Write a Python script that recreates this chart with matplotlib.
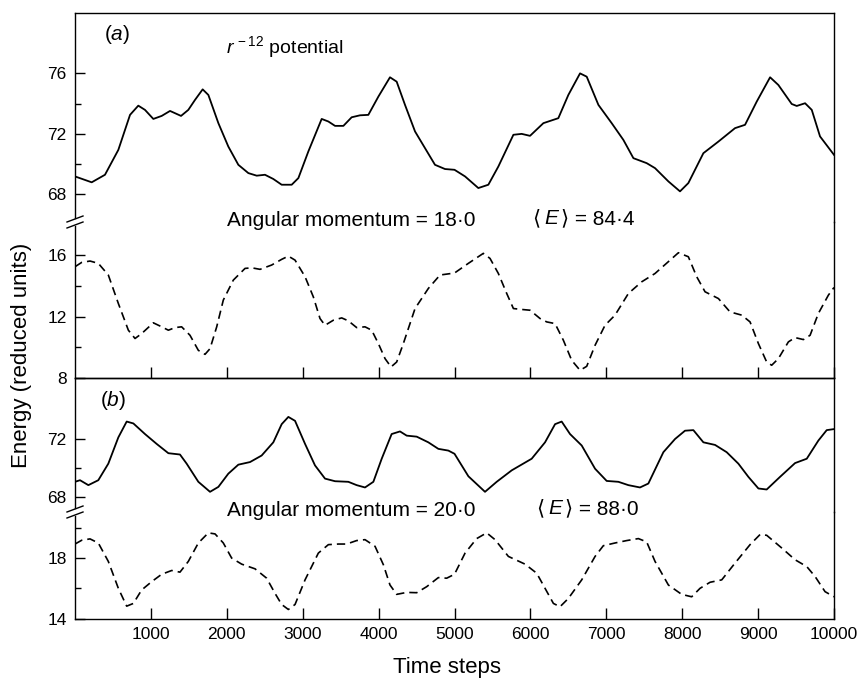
#!/usr/bin/env python3
# -*- coding: utf-8 -*-
"""
Energy against time step for two angular momenta, r^-12 potential.
Kinetic (dashed) and potential (solid) energy on broken y axes.
"""

import matplotlib
matplotlib.use('Agg')
import matplotlib.pyplot as plt
from matplotlib.lines import Line2D

###############################################################################
# =========================
# data (time step, energy in reduced units)
# =========================

# (a) angular momentum 18.0, potential energy
aPotSteps = [0, 220, 395, 571, 725, 834, 922, 1032, 1142, 1252, 1318, 1397, 1493, 1581, 1682, 1757,
             1889, 2020, 2152, 2284, 2394, 2503, 2613, 2723, 2855, 2943, 3074, 3250, 3338, 3426,
             3536, 3645, 3755, 3865, 3997, 4150, 4238, 4348, 4480, 4612, 4743, 4875, 5000, 5139,
             5314, 5446, 5578, 5776, 5885, 5995, 6171, 6368, 6500, 6654, 6742, 6896, 7071, 7225,
             7357, 7532, 7642, 7818, 7971, 8081, 8279, 8477, 8696, 8828, 8982, 9158, 9267, 9443,
             9509, 9619, 9707, 9816, 10000]
aPotEnergy = [69.17, 68.78, 69.28, 70.93, 73.25, 73.86, 73.58, 72.98, 73.18, 73.51, 73.36, 73.18,
              73.58, 74.24, 74.94, 74.57, 72.70, 71.15, 69.94, 69.39, 69.22, 69.28, 69.00, 68.62,
              68.62, 69.06, 70.82, 72.98, 72.81, 72.52, 72.52, 73.09, 73.22, 73.25, 74.46, 75.74,
              75.45, 73.91, 72.15, 71.04, 69.94, 69.66, 69.61, 69.17, 68.40, 68.62, 69.83, 71.93,
              71.99, 71.86, 72.70, 73.03, 74.57, 76.00, 75.78, 73.91, 72.70, 71.59, 70.38, 70.05,
              69.72, 68.84, 68.18, 68.73, 70.71, 71.48, 72.37, 72.59, 74.13, 75.74, 75.23, 73.97,
              73.84, 74.02, 73.58, 71.82, 70.60]

# (a) angular momentum 18.0, kinetic energy
aKinSteps = [0, 88, 198, 307, 439, 571, 703, 791, 878, 1032, 1142, 1230, 1318, 1405, 1515, 1625,
             1713, 1779, 1867, 1954, 2086, 2240, 2328, 2438, 2591, 2723, 2811, 2899, 3031, 3140,
             3228, 3294, 3404, 3514, 3601, 3711, 3821, 3909, 3997, 4085, 4164, 4238, 4326, 4480,
             4656, 4809, 5000, 5183, 5380, 5468, 5578, 5688, 5776, 5885, 5995, 6127, 6215, 6325,
             6434, 6544, 6654, 6742, 6852, 6983, 7115, 7291, 7467, 7642, 7818, 7950, 8081, 8191,
             8301, 8477, 8630, 8784, 8894, 9004, 9113, 9179, 9267, 9399, 9487, 9597, 9685, 9794,
             9926, 10000]
aKinEnergy = [15.24, 15.52, 15.61, 15.46, 14.70, 12.85, 11.11, 10.57, 10.89, 11.59, 11.33, 11.11,
              11.28, 11.33, 10.78, 9.80, 9.54, 9.91, 11.33, 13.07, 14.37, 15.13, 15.17, 15.07,
              15.35, 15.72, 15.93, 15.67, 14.59, 13.28, 11.87, 11.43, 11.76, 11.91, 11.72, 11.28,
              11.33, 11.11, 10.24, 9.26, 8.72, 9.04, 10.24, 12.52, 13.83, 14.70, 14.83, 15.46,
              16.11, 15.78, 14.80, 13.50, 12.52, 12.46, 12.41, 11.87, 11.65, 11.54, 10.46, 9.15,
              8.50, 8.76, 10.13, 11.43, 12.09, 13.50, 14.26, 14.80, 15.57, 16.15, 15.89, 14.59,
              13.61, 13.17, 12.30, 12.09, 11.65, 10.24, 9.04, 8.83, 9.26, 10.35, 10.63, 10.50,
              10.78, 12.20, 13.39, 13.89]

# (b) angular momentum 20.0, potential energy
bPotSteps = [0, 66, 176, 307, 439, 571, 681, 769, 922, 1076, 1230, 1383, 1471, 1625, 1779, 1889,
             2020, 2152, 2306, 2459, 2613, 2723, 2811, 2899, 3031, 3162, 3294, 3426, 3601, 3711,
             3821, 3931, 4041, 4172, 4282, 4370, 4502, 4655, 4787, 4919, 5000, 5183, 5402, 5556,
             5754, 6017, 6193, 6325, 6412, 6522, 6676, 6852, 7005, 7159, 7291, 7444, 7554, 7752,
             7906, 8037, 8147, 8279, 8433, 8586, 8740, 8872, 9004, 9113, 9289, 9487, 9641, 9794,
             9904, 10000]
bPotEnergy = [69.05, 69.16, 68.82, 69.16, 70.30, 72.11, 73.20, 73.07, 72.34, 71.66, 71.02, 70.93,
              70.30, 69.05, 68.36, 68.70, 69.61, 70.23, 70.41, 70.86, 71.77, 73.02, 73.52, 73.25,
              71.66, 70.18, 69.27, 69.09, 69.05, 68.82, 68.66, 69.05, 70.64, 72.34, 72.52, 72.23,
              72.16, 71.77, 71.32, 71.20, 70.98, 69.43, 68.36, 69.05, 69.84, 70.64, 71.77, 73.02,
              73.20, 72.34, 71.55, 69.95, 69.11, 69.05, 68.82, 68.66, 68.93, 71.09, 72.00, 72.57,
              72.61, 71.77, 71.59, 71.09, 70.30, 69.39, 68.59, 68.52, 69.39, 70.34, 70.64, 71.89,
              72.61, 72.68]

# (b) angular momentum 20.0, kinetic energy
bKinSteps = [0, 88, 198, 307, 439, 571, 681, 769, 878, 1010, 1142, 1274, 1383, 1493, 1625, 1757,
             1845, 1954, 2064, 2196, 2372, 2525, 2635, 2723, 2811, 2899, 3031, 3206, 3338, 3470,
             3579, 3711, 3821, 3953, 4063, 4150, 4238, 4370, 4502, 4634, 4787, 4897, 5000, 5139,
             5292, 5424, 5534, 5710, 5929, 6083, 6193, 6303, 6390, 6500, 6676, 6852, 6961, 7115,
             7269, 7423, 7532, 7642, 7818, 7993, 8125, 8235, 8367, 8521, 8696, 8894, 9026, 9113,
             9311, 9487, 9641, 9751, 9882, 10000]
bKinEnergy = [18.93, 19.18, 19.27, 19.00, 17.78, 16.00, 14.82, 15.00, 15.89, 16.44, 16.93, 17.18,
              17.07, 17.78, 19.00, 19.67, 19.60, 19.00, 18.00, 17.60, 17.29, 16.67, 15.67, 14.93,
              14.60, 14.93, 16.56, 18.33, 18.89, 18.93, 18.93, 19.16, 19.22, 18.78, 17.56, 16.22,
              15.60, 15.73, 15.71, 16.11, 16.71, 16.67, 16.93, 18.33, 19.29, 19.67, 19.22, 18.11,
              17.60, 17.00, 16.00, 15.00, 14.78, 15.33, 16.56, 18.11, 18.82, 19.00, 19.16, 19.29,
              19.07, 17.78, 16.22, 15.60, 15.44, 16.00, 16.40, 16.56, 17.67, 18.89, 19.56, 19.51,
              18.67, 17.89, 17.44, 16.78, 15.78, 15.44]

xTicks = [1000, 2000, 3000, 4000, 5000, 6000, 7000, 8000, 9000, 10000]

# y ticks per sub-axis: (major, minor)
aPotTicks = ([68, 72, 76], [70, 74])
aKinTicks = ([8, 12, 16], [10, 14])
bPotTicks = ([68, 72], [70])
bKinTicks = ([14, 18], [16, 20])

angMom = {'a': '18\u00b70', 'b': '20\u00b70'}
meanE = {'a': '84\u00b74', 'b': '88\u00b70'}


W, H = 858, 679
LEFT, RIGHT = 75, 834


def fpos(x, y):
    # pixel position (from top left) -> figure fraction
    return x / W, 1 - y / H


def sub_axes(fig, top, bottom, ylim, ticks):
    ax = fig.add_axes([LEFT / W, 1 - bottom / H, (RIGHT - LEFT) / W, (bottom - top) / H])
    ax.set_xlim(0, 10000)
    ax.set_ylim(ylim)
    ax.set_yticks(ticks[0])
    ax.set_yticks(ticks[1], minor=True)
    ax.tick_params(axis='y', which='major', direction='in', length=7, width=1.0, labelsize=12.5, pad=6)
    ax.tick_params(axis='y', which='minor', direction='in', length=4, width=1.0)
    ax.tick_params(axis='x', which='both', bottom=False, top=False, labelbottom=False)
    for sp in ax.spines.values():
        sp.set_linewidth(1.0)
    ax.patch.set_alpha(0)
    return ax


def break_marks(fig, y):
    # two slanted strokes across the left spine
    for dy in (-3, 3):
        x0, y0 = fpos(LEFT - 8, y + dy + 3)
        x1, y1 = fpos(LEFT + 8, y + dy - 3)
        fig.add_artist(Line2D([x0, x1], [y0, y1], transform=fig.transFigure, color='black', lw=1.0))


def label_row(fig, key, y, xE):
    # 'Angular momentum = ..'   <E> = ..
    fig.text(*fpos(227, y), 'Angular momentum = ' + angMom[key], fontsize=15, ha='left', va='baseline')
    fig.text(*fpos(xE, y - 2), '\u27e8', fontsize=15, ha='left', va='baseline')
    fig.text(*fpos(xE + 12, y - 2), 'E', fontsize=15, style='italic', ha='left', va='baseline')
    fig.text(*fpos(xE + 29, y - 2), '\u27e9 = ' + meanE[key], fontsize=15, ha='left', va='baseline')


def main():

    fig = plt.figure(figsize=(8.58, 6.79), dpi=100)

    ### panel (a)
    axAP = sub_axes(fig, 13, 222, (66.15, 80.0), aPotTicks)
    axAK = sub_axes(fig, 222, 378, (8.0, 18.15), aKinTicks)
    ### panel (b)
    axBP = sub_axes(fig, 378, 512, (66.97, 76.2), bPotTicks)
    axBK = sub_axes(fig, 512, 619, (13.97, 21.05), bKinTicks)

    axAP.plot(aPotSteps, aPotEnergy, color='black', lw=1.3, solid_joinstyle='round')
    axAK.plot(aKinSteps, aKinEnergy, color='black', lw=1.2, dashes=[5, 3])
    axBP.plot(bPotSteps, bPotEnergy, color='black', lw=1.3, solid_joinstyle='round')
    axBK.plot(bKinSteps, bKinEnergy, color='black', lw=1.2, dashes=[5, 3])

    # broken y axes: no spine between the pair, small gap on the left
    for upper, lower in [(axAP, axAK), (axBP, axBK)]:
        upper.spines['bottom'].set_visible(False)
        lower.spines['top'].set_visible(False)
        lo, hi = upper.get_ylim()
        upper.spines['left'].set_bounds(lo + 0.25, hi)
        lo, hi = lower.get_ylim()
        lower.spines['left'].set_bounds(lo, hi - 0.25)
    break_marks(fig, 222)
    break_marks(fig, 512)

    # time axis ticks point inwards from the bottom of each panel
    for ax in [axAK, axBK]:
        ax.set_xticks(xTicks)
        ax.tick_params(axis='x', which='major', bottom=True, direction='in', length=8, width=1.0,
                       labelsize=12.5, pad=6)
    axBK.tick_params(axis='x', labelbottom=True)

    ### annotations
    fig.text(*fpos(117, 35), '($\\mathit{a}$)', fontsize=15, ha='center', va='center')
    fig.text(*fpos(113, 400), '($\\mathit{b}$)', fontsize=15, ha='center', va='center')
    fig.text(*fpos(226, 53), '$\\mathit{r}^{\\,-12}$ potential', fontsize=14, ha='left', va='baseline')

    label_row(fig, 'a', 226, 532)
    label_row(fig, 'b', 516, 536)

    fig.text(*fpos(22, 355), 'Energy (reduced units)', fontsize=16, rotation=90, ha='center', va='center')
    fig.text(*fpos(447, 668), 'Time steps', fontsize=16, ha='center', va='center')

    fig.savefig('out.png', dpi=100)
    plt.close()


plt.rcParams['font.family'] = ['Liberation Sans', 'DejaVu Sans']
plt.rcParams['mathtext.fontset'] = 'custom'
plt.rcParams['mathtext.rm'] = 'Liberation Sans'
plt.rcParams['mathtext.it'] = 'Liberation Sans:italic'

if __name__ == '__main__':
    main()
